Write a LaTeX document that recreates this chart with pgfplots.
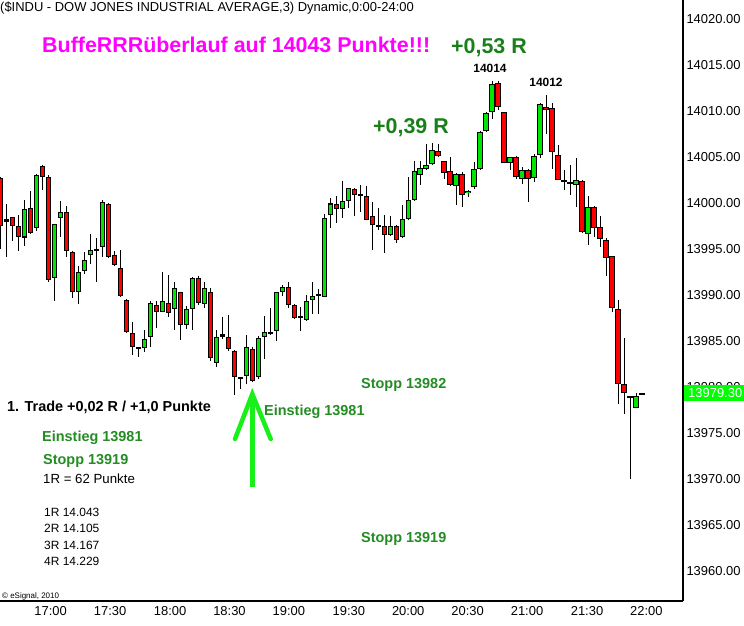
\documentclass[border=0pt]{standalone}
\usepackage{fontspec}
\setmainfont{Liberation Sans}
\usepackage{pgfplots}
\usepackage{pgfplotstable}
\pgfplotsset{compat=1.18}
\definecolor{upgreen}{RGB}{0,230,0}
\definecolor{downred}{RGB}{255,0,0}
\definecolor{magtext}{RGB}{255,0,255}
\definecolor{darkgr}{RGB}{25,128,25}
\definecolor{midgr}{RGB}{35,140,35}
\definecolor{arrowgr}{RGB}{25,240,25}
\definecolor{pricebox}{RGB}{0,255,0}
\newcommand{\fs}[1]{\fontsize{#1}{#1}\selectfont}
\pgfplotsset{candle/.style={only marks, mark=none, mark size=0pt,
  mark options={draw=none, fill=none}, forget plot}}

% 3-minute candles, j = bar number (first bar at the left edge)
\pgfplotstableread{
j o h l c
0 14002.7 14002.9 13995.0 13997.5
1 13998.2 14000.0 13994.2 13998.2
2 13998.5 13998.5 13995.9 13997.5
3 13997.5 13998.7 13994.8 13996.3
4 13996.4 14000.4 13995.4 13999.5
5 13999.5 14001.5 13996.8 13996.8
6 13997.4 14003.3 13997.1 14003.2
7 14004.1 14004.2 14001.5 14002.9
8 14002.9 14003.0 13991.4 13991.7
9 13991.9 13997.8 13989.4 13997.7
10 13998.5 14000.3 13996.4 13999.1
11 13999.1 13999.7 13994.1 13994.8
12 13994.7 13994.8 13989.7 13990.4
13 13990.4 13993.2 13989.1 13992.6
14 13992.7 13994.8 13992.4 13993.9
15 13994.4 13996.7 13993.5 13995.0
16 13994.9 13996.2 13991.5 13995.1
17 13995.3 14000.3 13994.1 14000.2
18 14000.0 14000.1 13994.1 13994.2
19 13994.5 13994.9 13993.3 13993.4
20 13993.0 13995.0 13989.9 13990.0
21 13989.6 13989.7 13986.0 13986.1
22 13986.0 13987.2 13983.6 13984.5
23 13984.3 13984.4 13983.3 13984.2
24 13984.2 13986.3 13983.9 13985.2
25 13985.5 13989.4 13984.4 13989.2
26 13989.0 13989.4 13986.5 13988.2
27 13988.3 13992.6 13988.2 13989.5
28 13989.3 13992.2 13987.6 13988.2
29 13988.5 13991.5 13986.3 13990.8
30 13990.3 13990.4 13985.3 13986.7
31 13986.7 13988.9 13986.4 13988.5
32 13988.6 13992.1 13986.3 13992.0
33 13992.0 13992.1 13989.0 13989.2
34 13989.1 13991.5 13988.7 13990.8
35 13990.4 13990.9 13983.0 13983.2
36 13982.7 13986.4 13982.3 13985.5
37 13985.7 13987.6 13985.2 13985.7
38 13985.5 13987.9 13984.0 13984.2
39 13984.0 13984.1 13979.2 13981.1
40 13981.1 13981.1 13979.9 13981.1
41 13981.3 13985.8 13980.4 13984.5
42 13984.2 13984.3 13980.5 13980.7
43 13981.1 13985.6 13981.0 13985.4
44 13985.5 13987.8 13983.1 13986.0
45 13985.9 13988.7 13985.8 13985.9
46 13986.2 13990.5 13985.2 13990.4
47 13990.5 13991.2 13990.0 13991.0
48 13991.0 13991.5 13988.6 13989.0
49 13989.0 13989.1 13987.4 13987.6
50 13987.6 13988.9 13986.2 13987.6
51 13987.4 13990.1 13987.3 13989.4
52 13989.6 13991.5 13988.0 13990.0
53 13990.1 13990.7 13988.0 13990.1
54 13989.9 13998.8 13989.8 13998.5
55 13998.7 14000.5 13997.3 14000.0
56 13999.9 14000.9 13998.0 13999.4
57 13999.5 14002.5 13998.5 14000.3
58 14000.2 14001.7 13999.6 14001.6
59 14001.6 14001.7 13998.6 14000.9
60 14000.9 14002.0 13999.1 14000.9
61 14000.8 14001.8 13998.1 13998.2
62 13998.6 14000.2 13994.9 13997.7
63 13997.6 13999.5 13997.1 13997.6
64 13997.5 13998.7 13994.6 13996.6
65 13996.6 13998.6 13996.5 13997.5
66 13997.5 13997.6 13995.6 13996.0
67 13996.4 13999.9 13996.3 13998.4
68 13998.4 14002.9 13998.3 14000.4
69 14000.4 14004.7 14000.3 14003.6
70 14003.1 14004.7 14002.1 14003.9
71 14003.7 14006.5 14003.6 14004.2
72 14004.3 14006.5 14004.1 14005.8
73 14005.8 14006.5 14005.0 14005.2
74 14004.6 14004.7 14002.7 14003.3
75 14003.5 14005.1 14001.9 14002.0
76 14002.0 14003.3 13999.8 14003.3
77 14003.3 14003.4 13999.6 14001.0
78 14001.1 14001.5 14000.7 14001.4
79 14001.7 14004.6 14001.6 14003.7
80 14003.7 14007.9 14003.6 14007.8
81 14007.9 14009.9 14007.8 14009.8
82 14009.9 14013.4 14009.2 14012.9
83 14013.0 14013.4 14010.2 14010.4
84 14010.0 14010.0 14004.4 14004.5
85 14004.4 14005.0 14003.7 14005.0
86 14005.1 14005.2 14002.7 14002.9
87 14002.7 14004.0 14002.1 14003.7
88 14003.7 14003.8 14000.2 14002.8
89 14002.8 14005.3 14002.3 14005.2
90 14005.3 14010.9 14004.9 14010.8
91 14010.5 14011.8 14007.6 14010.2
92 14010.3 14010.9 14003.8 14005.5
93 14005.3 14006.4 14002.6 14002.6
94 14002.5 14003.6 14001.5 14002.5
95 14002.4 14004.2 14001.0 14002.2
96 14002.1 14004.9 13999.6 14002.6
97 14002.5 14002.6 13996.9 13997.0
98 13996.7 14000.8 13995.5 13999.7
99 13999.6 13999.7 13996.4 13997.3
100 13997.5 13998.6 13995.2 13996.2
101 13996.1 13996.2 13992.1 13994.2
102 13994.2 13994.3 13988.3 13988.6
103 13988.5 13989.6 13978.2 13980.4
104 13980.3 13985.4 13977.2 13979.3
105 13979.0 13979.1 13970.1 13979.0
106 13977.9 13979.3 13977.9 13979.2
107 13979.3 13979.3 13979.3 13979.3
}\candles

\begin{document}
\begin{tikzpicture}[x=1bp,y=1bp]
\useasboundingbox (0,0) rectangle (744,626);
\begin{axis}[
  at={(0bp,25bp)}, anchor=south west,
  width=683bp, height=601bp, scale only axis,
  xmin=-0.05, xmax=113.8,
  ymin=13956.74, ymax=14022.07,
  axis x line*=bottom, axis y line*=right,
  axis line style={black, line width=1.2bp, -},
  xtick={8.4,18.3,28.3,38.2,48.1,58.1,68.0,77.9,87.8,97.8,107.7},
  xticklabels={17:00,17:30,18:00,18:30,19:00,19:30,20:00,20:30,21:00,21:30,22:00},
  ytick={13960,13965,13970,13975,13980,13985,13990,13995,14000,14005,14010,14015,14020},
  scaled y ticks=false,
  yticklabel style={/pgf/number format/fixed, /pgf/number format/fixed zerofill,
    /pgf/number format/precision=2, /pgf/number format/1000 sep={}},
  /pgf/number format/assume math mode=true,
  tick label style={font=\fs{13}},
  xticklabel style={yshift=-2bp},
  major tick length=0pt,
]
% wicks
\addplot[candle, error bars/.cd, y dir=both, y explicit, error mark=none,
  error bar style={black, line width=1.1bp}]
  table[x=j, y expr={(\thisrow{h}+\thisrow{l})/2}, y error expr={(\thisrow{h}-\thisrow{l})/2}] {\candles};
% body outlines
\addplot[candle, error bars/.cd, y dir=both, y explicit, error mark=none,
  error bar style={black, line width=5.5bp}]
  table[x=j, y expr={(\thisrow{o}+\thisrow{c})/2}, y error expr={max(abs(\thisrow{o}-\thisrow{c})/2,0.11)}] {\candles};
% up bodies
\addplot[candle, restrict expr to domain={\thisrow{c}-\thisrow{o}}{0.01:100},
  error bars/.cd, y dir=both, y explicit, error mark=none,
  error bar style={upgreen, line width=3.5bp}]
  table[x=j, y expr={(\thisrow{o}+\thisrow{c})/2}, y error expr={max((\thisrow{c}-\thisrow{o})/2-0.11,0)}] {\candles};
% down bodies
\addplot[candle, restrict expr to domain={\thisrow{o}-\thisrow{c}}{0.01:100},
  error bars/.cd, y dir=both, y explicit, error mark=none,
  error bar style={downred, line width=3.5bp}]
  table[x=j, y expr={(\thisrow{o}+\thisrow{c})/2}, y error expr={max((\thisrow{o}-\thisrow{c})/2-0.11,0)}] {\candles};
\end{axis}

% last price box on the scale
\fill[pricebox] (684,225) rectangle (744,241);
\node[anchor=west, inner sep=0, text=white, font=\fs{13}] at (688,233) {13979.30};

% texts
\node[anchor=base west, inner sep=0, font=\fs{13}] at (0,614) {(\$INDU - DOW JONES INDUSTRIAL AVERAGE,3) Dynamic,0:00-24:00};
\node[anchor=base west, inner sep=0, font=\fs{21.5}\bfseries, text=magtext] at (42,573) {BuffeRRRüberlauf auf 14043 Punkte!!!};
\node[anchor=base west, inner sep=0, font=\fs{21.5}\bfseries, text=darkgr] at (451,572) {+0,53 R};
\node[anchor=base west, inner sep=0, font=\fs{21.5}\bfseries, text=darkgr] at (373,492) {+0,39 R};
\node[anchor=base, inner sep=0, font=\fs{12}\bfseries] at (490,553) {14014};
\node[anchor=base, inner sep=0, font=\fs{12}\bfseries] at (546,539) {14012};
\node[anchor=base west, inner sep=0, font=\fs{14.5}\bfseries, text=midgr] at (361,237) {Stopp 13982};
\node[anchor=base west, inner sep=0, font=\fs{14.5}\bfseries, text=midgr] at (264,210) {Einstieg 13981};
\node[anchor=base west, inner sep=0, font=\fs{14.5}\bfseries] at (7,214) {1. Trade +0,02 R / +1,0 Punkte};
\node[anchor=base west, inner sep=0, font=\fs{14.5}\bfseries, text=midgr] at (42,184) {Einstieg 13981};
\node[anchor=base west, inner sep=0, font=\fs{14.5}\bfseries, text=midgr] at (43,161) {Stopp 13919};
\node[anchor=base west, inner sep=0, font=\fs{13.3}] at (43,142) {1R = 62 Punkte};
\node[anchor=base west, inner sep=0, font=\fs{12}] at (44,109) {1R 14.043};
\node[anchor=base west, inner sep=0, font=\fs{12}] at (44,93) {2R 14.105};
\node[anchor=base west, inner sep=0, font=\fs{12}] at (44,76) {3R 14.167};
\node[anchor=base west, inner sep=0, font=\fs{12}] at (44,60) {4R 14.229};
\node[anchor=base west, inner sep=0, font=\fs{14.5}\bfseries, text=midgr] at (361,83) {Stopp 13919};
\node[anchor=base west, inner sep=0, font=\fs{8}] at (2,27) {\textcopyright\ eSignal, 2010};

% entry arrow
\draw[arrowgr, line width=4.5bp, line cap=round, line join=miter] (235,187) -- (252.3,232) -- (270.7,187);
\draw[arrowgr, line width=4.5bp] (252.3,230) -- (252.3,139);
\end{tikzpicture}
\end{document}
